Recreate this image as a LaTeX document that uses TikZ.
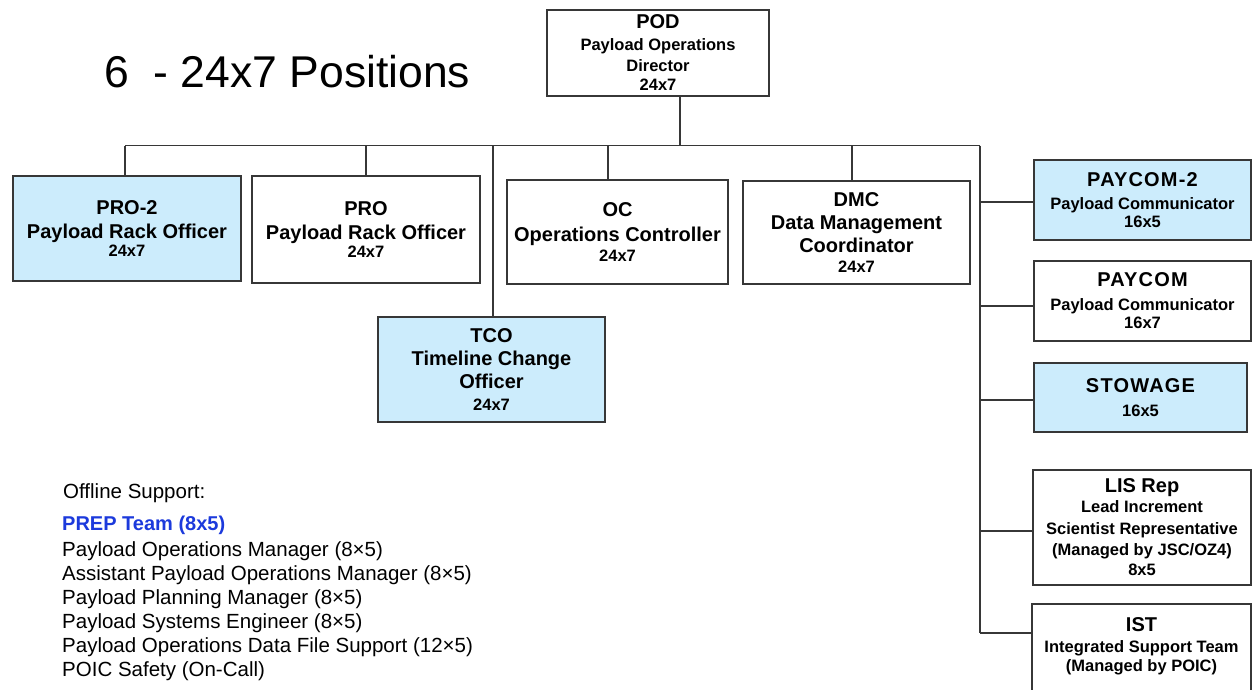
\documentclass[tikz,border=0pt]{standalone}
\usepackage{fontspec}
\setmainfont{Liberation Sans}
\definecolor{rolefill}{RGB}{204,236,252}
\definecolor{edge}{RGB}{55,55,55}
\definecolor{prepblue}{RGB}{28,58,220}
\newcommand\hd[1]{{\fontsize{20}{20}\selectfont #1}}
\newcommand\wide[1]{{\addfontfeatures{LetterSpace=6}#1}}
\tikzset{
  box/.style={draw=edge, line width=1.2pt, inner sep=0pt, align=center,
    font=\bfseries\fontsize{16.5}{20}\selectfont, fill=white},
  hot/.style={box, fill=rolefill},
  wire/.style={draw=edge, line width=1.2pt},
  offline/.style={anchor=base west, inner sep=0pt, font=\fontsize{20.5}{24}\selectfont}
}
\begin{document}
\begin{tikzpicture}[x=1pt,y=-1pt]
\useasboundingbox (0,0) rectangle (1252,690);

% title
\node[anchor=base west, inner sep=0pt, font=\fontsize{44.5}{48}\selectfont] (title) at (104,88) {6\ \ - 24x7 Positions};

% director
\node[box, minimum width=222pt, minimum height=86pt] (pod) at (658,53)
  {\hd{POD}\\[2pt]Payload Operations\\[1pt]Director\\[-1pt]24x7};

% first row of positions
\node[hot, minimum width=228pt, minimum height=105pt] (pro2) at (127,228.5)
  {\hd{PRO-2}\\[4pt]\hd{Payload Rack Officer}\\[-2pt]24x7};
\node[box, minimum width=228pt, minimum height=107pt] (pro) at (366,229.5)
  {\hd{PRO}\\[4pt]\hd{Payload Rack Officer}\\[-2pt]24x7};
\node[box, minimum width=221pt, minimum height=104pt] (oc) at (617.5,232)
  {\hd{OC}\\[5pt]\hd{Operations Controller}\\24x7};
\node[box, minimum width=227pt, minimum height=103pt] (dmc) at (856.5,232.5)
  {\hd{DMC}\\[3pt]\hd{Data Management}\\[3pt]\hd{Coordinator}\\24x7};
\node[hot, minimum width=227pt, minimum height=105pt] (tco) at (491.5,369.5)
  {\hd{TCO}\\[3pt]\hd{Timeline Change}\\[3pt]\hd{Officer}\\[2pt]24x7};

% right-hand column
\node[hot, minimum width=217pt, minimum height=80pt] (pay2) at (1142.5,200)
  {\hd{\wide{PAYCOM-2}}\\[3pt]Payload Communicator\\[-2pt]16x5};
\node[box, minimum width=217pt, minimum height=80pt] (pay) at (1142.5,301)
  {\hd{\wide{PAYCOM}}\\[4pt]Payload Communicator\\[-2pt]16x7};
\node[hot, minimum width=213pt, minimum height=69pt] (stow) at (1140.5,397.5)
  {\hd{\wide{STOWAGE}}\\[4pt]16x5};
\node[box, minimum width=218pt, minimum height=115pt] (lis) at (1142,527.5)
  {\hd{LIS Rep}\\Lead Increment\\[2pt]Scientist Representative\\[1pt](Managed by JSC/OZ4)\\8x5};
\node[box, minimum width=219pt, minimum height=96pt] (ist) at (1141.5,652)
  {\hd{IST}\\[1pt]Integrated Support Team\\[-1pt](Managed by POIC)\\[-6pt]\mbox{}};

% connectors
\coordinate (jpod) at (680,145.5);
\coordinate (busL) at (125,145.5);
\coordinate (busR) at (980,145.5);
\coordinate (trunkEnd) at (980,633);
\draw[wire] (pod.south -| jpod) -- (jpod);
\draw[wire] (busL) -- (busR);
\draw[wire] (busL) -- (busL |- pro2.north);
\draw[wire] (pro.north |- busL) -- (pro.north);
\draw[wire] ([xshift=-9.5pt]oc.north |- busL) -- ([xshift=-9.5pt]oc.north);
\draw[wire] ([xshift=-4.5pt]dmc.north |- busL) -- ([xshift=-4.5pt]dmc.north);
\draw[wire] ([xshift=1.5pt]tco.north |- busL) -- ([xshift=1.5pt]tco.north);
\draw[wire] (busR) -- (trunkEnd);
\draw[wire] ([yshift=-2pt]pay2.west -| busR) -- ([yshift=-2pt]pay2.west);
\draw[wire] ([yshift=-5pt]pay.west -| busR) -- ([yshift=-5pt]pay.west);
\draw[wire] ([yshift=-2.5pt]stow.west -| busR) -- ([yshift=-2.5pt]stow.west);
\draw[wire] ([yshift=-3.5pt]lis.west -| busR) -- ([yshift=-3.5pt]lis.west);
\draw[wire] (trunkEnd) -- (trunkEnd -| ist.west);

% offline support list
\node[offline] (off0) at (63,498) {Offline Support:};
\node[offline, font=\bfseries\fontsize{20}{24}\selectfont, text=prepblue] (off1) at (62,530) {PREP Team (8x5)};
\node[offline] (off2) at (62,556) {Payload Operations Manager (8×5)};
\node[offline] (off3) at (62,580) {Assistant Payload Operations Manager (8×5)};
\node[offline] (off4) at (62,604) {Payload Planning Manager (8×5)};
\node[offline] (off5) at (62,628) {Payload Systems Engineer (8×5)};
\node[offline] (off6) at (62,652) {Payload Operations Data File Support (12×5)};
\node[offline] (off7) at (62,676) {POIC Safety (On-Call)};
\end{tikzpicture}
\end{document}
